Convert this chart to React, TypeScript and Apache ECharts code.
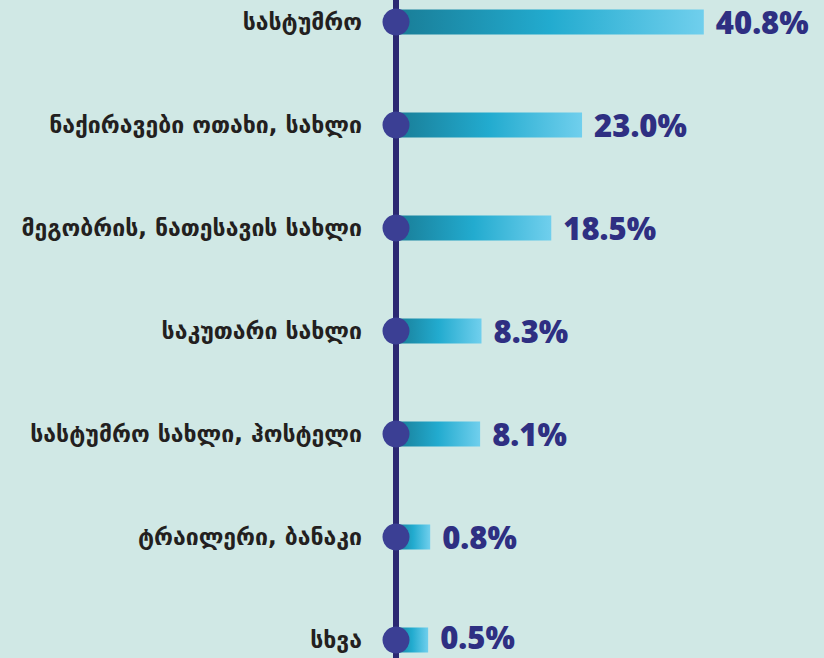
import React, { useEffect, useRef } from "react";
import * as echarts from "echarts";

const categories = [
  "სასტუმრო",
  "ნაქირავები ოთახი, სახლი",
  "მეგობრის, ნათესავის სახლი",
  "საკუთარი სახლი",
  "სასტუმრო სახლი, ჰოსტელი",
  "ტრაილერი, ბანაკი",
  "სხვა",
];
const values = [40.8, 23.0, 18.5, 8.3, 8.1, 0.8, 0.5];

const AXIS_MIN = -4.2;
const AXIS_MAX = 55;

export default function App() {
  const ref = useRef<HTMLDivElement>(null);
  useEffect(() => {
    if (!ref.current) return;
    const chart = echarts.init(ref.current, undefined, { renderer: "svg" });
    const gradient = new echarts.graphic.LinearGradient(0, 0, 1, 0, [
      { offset: 0, color: "#197d97" },
      { offset: 0.5, color: "#22abcf" },
      { offset: 1, color: "#70cfed" },
    ]);
    const last = values.length - 1;
    chart.setOption({
      animation: false,
      backgroundColor: "#d0e8e5",
      grid: {
        left: 396,
        top: -29.5,
        height: 721,
        width: (AXIS_MAX - AXIS_MIN) * 6.84,
        outerBoundsMode: "none",
        containLabel: false,
      },
      xAxis: {
        type: "value",
        min: AXIS_MIN,
        max: AXIS_MAX,
        startValue: AXIS_MIN,
        show: false,
        splitLine: { show: false },
      },
      yAxis: {
        type: "category",
        data: categories,
        inverse: true,
        boundaryGap: true,
        axisLine: { show: true, onZero: false, lineStyle: { color: "#2b2872", width: 6 } },
        axisTick: { show: false },
        axisLabel: {
          margin: 34,
          color: "#231f20",
          fontFamily: "DejaVu Sans",
          fontWeight: "bold",
          fontSize: 23,
        },
      },
      series: [
        {
          type: "bar",
          data: values.map((v, i) =>
            i === last ? { value: v, label: { offset: [0, -3] } } : v
          ),
          barWidth: 25,
          itemStyle: { color: gradient },
          label: {
            show: true,
            position: "right",
            distance: 12,
            formatter: (p: any) => Number(p.value).toFixed(1) + "%",
            color: "#2e2f82",
            fontFamily: "Open Sans",
            fontWeight: 800,
            fontSize: 31,
            lineHeight: 26,
          },
          z: 2,
        },
        {
          type: "scatter",
          data: categories.map((_, i) => [AXIS_MIN, i]),
          symbol: "circle",
          symbolSize: 27,
          itemStyle: { color: "#3b3f94", opacity: 1 },
          z: 3,
        },
      ],
    });
    return () => chart.dispose();
  }, []);
  return (
    <div
      ref={ref}
      style={{ position: "fixed", left: 0, top: 0, width: 824, height: 658 }}
    />
  );
}
